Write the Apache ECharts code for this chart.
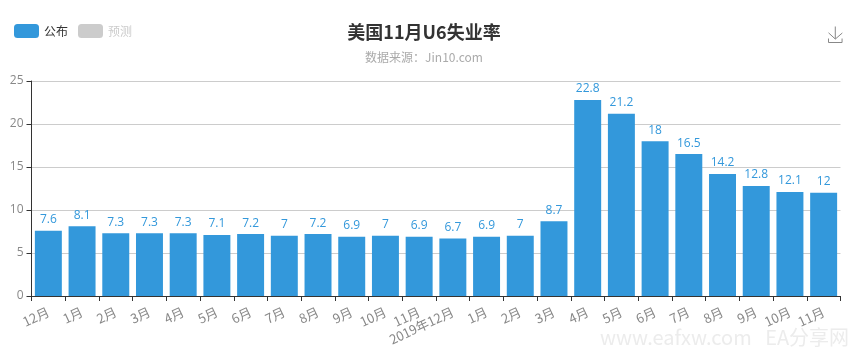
<!DOCTYPE html>
<html><head><meta charset="utf-8">
<style>html,body{margin:0;padding:0;background:#fff}#c{width:858px;height:352px}</style>
<script src="https://cdn.jsdelivr.net/npm/echarts@6/dist/echarts.min.js"></script>
</head><body><div id="c"></div>
<script>
const categories = ['12月','1月','2月','3月','4月','5月','6月','7月','8月','9月','10月','11月','2019年12月','1月','2月','3月','4月','5月','6月','7月','8月','9月','10月','11月'];
const published = [7.6,8.1,7.3,7.3,7.3,7.1,7.2,7,7.2,6.9,7,6.9,6.7,6.9,7,8.7,22.8,21.2,18,16.5,14.2,12.8,12.1,12];
const forecast = [];
const yTicks = {min:0,max:25,interval:5};
const font = '"Noto Sans CJK SC","Open Sans",sans-serif';
const chart = echarts.init(document.getElementById('c'),null,{renderer:'canvas'});
chart.setOption({
  animation:false,
  backgroundColor:'#fff',
  textStyle:{fontFamily:font},
  title:{text:'美国11月U6失业率',subtext:'数据来源：Jin10.com',left:419,textAlign:'center',top:18,itemGap:10,
    textStyle:{fontSize:18,fontWeight:'bold',color:'#333',fontFamily:font},
    subtextStyle:{fontSize:12,color:'#aaa',fontFamily:font}},
  legend:{left:9,top:19,itemWidth:25,itemHeight:14,itemGap:10,selected:{'预测':false},
    inactiveColor:'#ccc',textStyle:{fontSize:12,color:'#333',fontFamily:font},
    data:['公布','预测']},
  toolbox:{left:811,top:9,itemSize:16,feature:{saveAsImage:{title:''}},iconStyle:{borderColor:'#888'}},
  grid:{left:31.5,right:17.5,top:81,bottom:56},
  xAxis:{type:'category',data:categories,
    axisLine:{lineStyle:{color:'#333',width:1}},
    axisTick:{show:true,length:5,alignWithLabel:false,lineStyle:{color:'#333'}},
    axisLabel:{interval:0,rotate:25,color:'#888',fontSize:13,fontFamily:font,margin:15}},
  yAxis:{type:'value',min:yTicks.min,max:yTicks.max,interval:yTicks.interval,
    axisLine:{show:true,lineStyle:{color:'#333'}},
    axisTick:{show:true,length:5,lineStyle:{color:'#333'}},
    axisLabel:{color:'#888',fontSize:12,fontFamily:'"Open Sans",sans-serif',margin:8},
    splitLine:{lineStyle:{color:'#ccc'}}},
  series:[
    {name:'公布',type:'bar',data:published,barWidth:'80%',itemStyle:{color:'#3398DB'},
     label:{show:true,position:'top',color:'#3398DB',fontSize:12,fontFamily:'"Open Sans",sans-serif',distance:5}},
    {name:'预测',type:'bar',data:forecast,itemStyle:{color:'#3398DB'}}
  ],
  graphic:[{type:'text',left:600,top:327,silent:true,
    style:{text:'www.eafxw.com   EA分享网',fill:'#ececec',fontSize:20,fontFamily:font}}]
});
</script></body></html>
